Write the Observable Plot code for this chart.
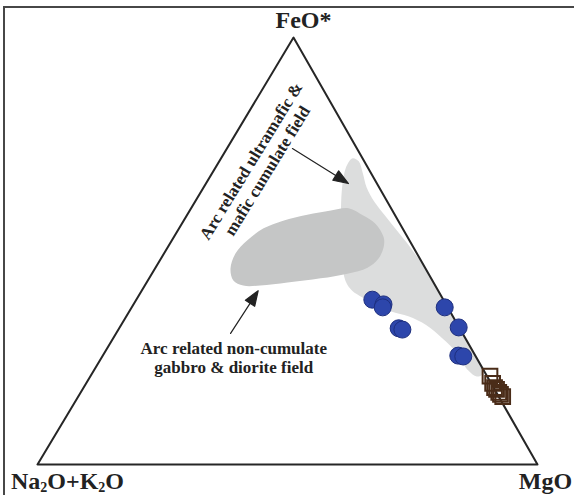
<!DOCTYPE html>
<html><head><meta charset="utf-8">
<script src="https://cdn.jsdelivr.net/npm/d3@7"></script>
<script src="https://cdn.jsdelivr.net/npm/@observablehq/plot@0.6"></script>
<style>
html,body{margin:0;padding:0;background:#fff;}
#wrap{position:relative;width:574px;height:495px;overflow:hidden;}
#frame{position:absolute;left:3px;top:6px;right:-4px;bottom:-4px;border-top:2px solid #474747;border-left:2px solid #474747;}
#chart{position:absolute;left:0;top:0;}
</style></head><body>
<div id="wrap"><div id="frame"></div><div id="chart"></div></div>
<script>
// Ternary values in wt% (Na2O+K2O = 100 - FeO* - MgO)
const vertexNames = ["FeO*", "Na2O+K2O", "MgO"];
const vertexFeO = [100, 0, 0];
const vertexMgO = [0, 0, 100];
const vertexDx = [10, 30, 8];
const vertexDy = [-10, 24, 24];

// Arc related ultramafic & mafic cumulate field (light gray)
const cumFeO = [71.7,71.0,68.4,64.9,61.4,58.1,55.0,52.0,49.2,47.1,43.1,36.5,30.7,24.8,22.5,21.1,20.6,22.0,26.2,29.5,32.6,34.7,35.8,37.2,39.1,40.7,43.1,47.8,54.8,61.8,67.7,70.3];
const cumMgO = [26.3,27.9,30.0,32.6,36.0,39.9,43.6,47.2,50.4,52.9,56.9,63.5,69.3,75.2,77.5,78.2,77.3,74.9,70.4,65.9,61.1,56.4,52.6,48.7,45.0,42.1,39.5,36.5,32.7,29.1,26.6,26.0];

// Arc related non-cumulate gabbro & diorite field (darker gray)
const nonCumFeO = [60.0,58.3,56.4,53.2,50.8,48.2,46.1,44.7,43.6,42.6,41.9,41.9,43.1,45.9,49.4,52.5,55.3,57.1,58.5,59.5];
const nonCumMgO = [31.5,35.3,38.7,42.0,43.2,43.5,42.4,39.1,34.3,28.2,23.1,19.7,17.1,15.1,14.3,15.1,16.9,19.9,24.0,28.2];

// Samples: blue circles
const circleFeO = [38.6,37.5,36.8,31.9,31.6,36.8,32.1,25.5,25.3];
const circleMgO = [47.2,50.0,50.2,55.9,56.8,62.6,67.8,71.1,72.2];

// Samples: brown open squares
const squareFeO = [20.7,19.0,18.0,17.6,16.9,16.4,15.9];
const squareMgO = [79.9,81.3,82.2,82.8,83.6,84.2,84.9];

// Annotations
const noteTexts = ["Arc related ultramafic &\nmafic cumulate field", "Arc related non-cumulate\ngabbro & diorite field"];
const noteFeO = [70.0, 25.1];
const noteMgO = [8.4, 26.4];
const noteRotate = [-58.5, 0];
const arrowFeO1 = [74.0, 30.7], arrowMgO1 = [13.1, 22.9];
const arrowFeO2 = [65.8, 40.7], arrowMgO2 = [28.5, 23.3];

// projection of the (slightly skewed) ternary onto x/y
const K = 0.512;
const tx = (f, m) => (m + K * f) / 100;
const ty = (f) => f / 100;
const XR = [37, 537], YR = [464, 37];

const zip = (F, M, extra = {}) => F.map((f, i) => ({x: tx(f, M[i]), y: ty(f), ...Object.fromEntries(Object.entries(extra).map(([k, v]) => [k, v[i]]))}));

const triangle = zip(vertexFeO, vertexMgO);
const cumField = zip(cumFeO, cumMgO);
const nonCumField = zip(nonCumFeO, nonCumMgO);
const circles = zip(circleFeO, circleMgO);
const squares = zip(squareFeO, squareMgO);
const notes = zip(noteFeO, noteMgO, {text: noteTexts, rotate: noteRotate});
const labels = zip(vertexFeO, vertexMgO, {text: vertexNames, dx: vertexDx, dy: vertexDy});

const sx = v => XR[0] + (XR[1] - XR[0]) * v;
const sy = v => YR[0] + (YR[1] - YR[0]) * v;
const arrows = arrowFeO1.map((f1, i) => {
  const x1 = tx(f1, arrowMgO1[i]), y1 = ty(f1);
  const x2 = tx(arrowFeO2[i], arrowMgO2[i]), y2 = ty(arrowFeO2[i]);
  const ddx = sx(x2) - sx(x1), ddy = sy(y2) - sy(y1);
  return {x: x2, y: y2, length: Math.hypot(ddx, ddy), rotate: Math.atan2(ddx, -ddy) * 180 / Math.PI};
});
const arrowShape = {
  draw(context, l) {
    const h = 15, w = 5.5;
    context.moveTo(0, 0);
    context.lineTo(0, -l + h);
    context.moveTo(0, -l);
    context.lineTo(-w, -l + h);
    context.lineTo(w, -l + h);
    context.closePath();
  }
};

const serif = "Liberation Serif, Times New Roman, serif";
const chart = Plot.plot({
  width: 574,
  height: 495,
  margin: 0,
  style: {background: "transparent", overflow: "visible"},
  x: {domain: [0, 1], range: XR, axis: null},
  y: {domain: [0, 1], range: YR, axis: null},
  length: {type: "identity"},
  marks: [
    Plot.line(cumField, {x: "x", y: "y", curve: "catmull-rom-closed", fill: "#dcdddd", stroke: "none"}),
    Plot.line(nonCumField, {x: "x", y: "y", curve: "catmull-rom-closed", fill: "#c5c6c6", stroke: "none"}),
    Plot.line(triangle, {x: "x", y: "y", curve: "linear-closed", stroke: "#262626", strokeWidth: 2}),
    Plot.dot(circles, {x: "x", y: "y", r: 8.5, fill: "#2d46ab", stroke: "#1e2f7e", strokeWidth: 1}),
    Plot.dot(squares, {x: "x", y: "y", symbol: "square", r: 8.3, fill: "none", stroke: "#4a2c18", strokeWidth: 2}),
    Plot.vector(arrows, {x: "x", y: "y", length: "length", rotate: "rotate", anchor: "end", shape: arrowShape, stroke: "#222", fill: "#222", strokeWidth: 1.2}),
    Plot.text(notes, {x: "x", y: "y", text: "text", rotate: "rotate", fontFamily: serif, fontWeight: "bold", fontSize: 17, lineHeight: 1.12, fill: "#222", textAnchor: "middle", lineAnchor: "middle"}),
    ...labels.map(l => Plot.text([l], {x: "x", y: "y", text: "text", dx: l.dx, dy: l.dy, fontFamily: serif, fontWeight: "bold", fontSize: 24, fill: "#222", textAnchor: "middle", lineAnchor: "bottom"}))
  ]
});
document.getElementById("chart").appendChild(chart);

// subscript digits in oxide formulas
chart.querySelectorAll("text").forEach(t => {
  if (t.textContent === "Na2O+K2O") {
    t.textContent = "";
    const parts = [["Na"], ["2", true], ["O+K"], ["2", true], ["O"]];
    parts.forEach(([s, sub]) => {
      const ts = document.createElementNS("http://www.w3.org/2000/svg", "tspan");
      ts.textContent = s;
      if (sub) { ts.setAttribute("font-size", "14"); ts.setAttribute("baseline-shift", "-3"); }
      t.appendChild(ts);
    });
  }
});
</script>
</body></html>
